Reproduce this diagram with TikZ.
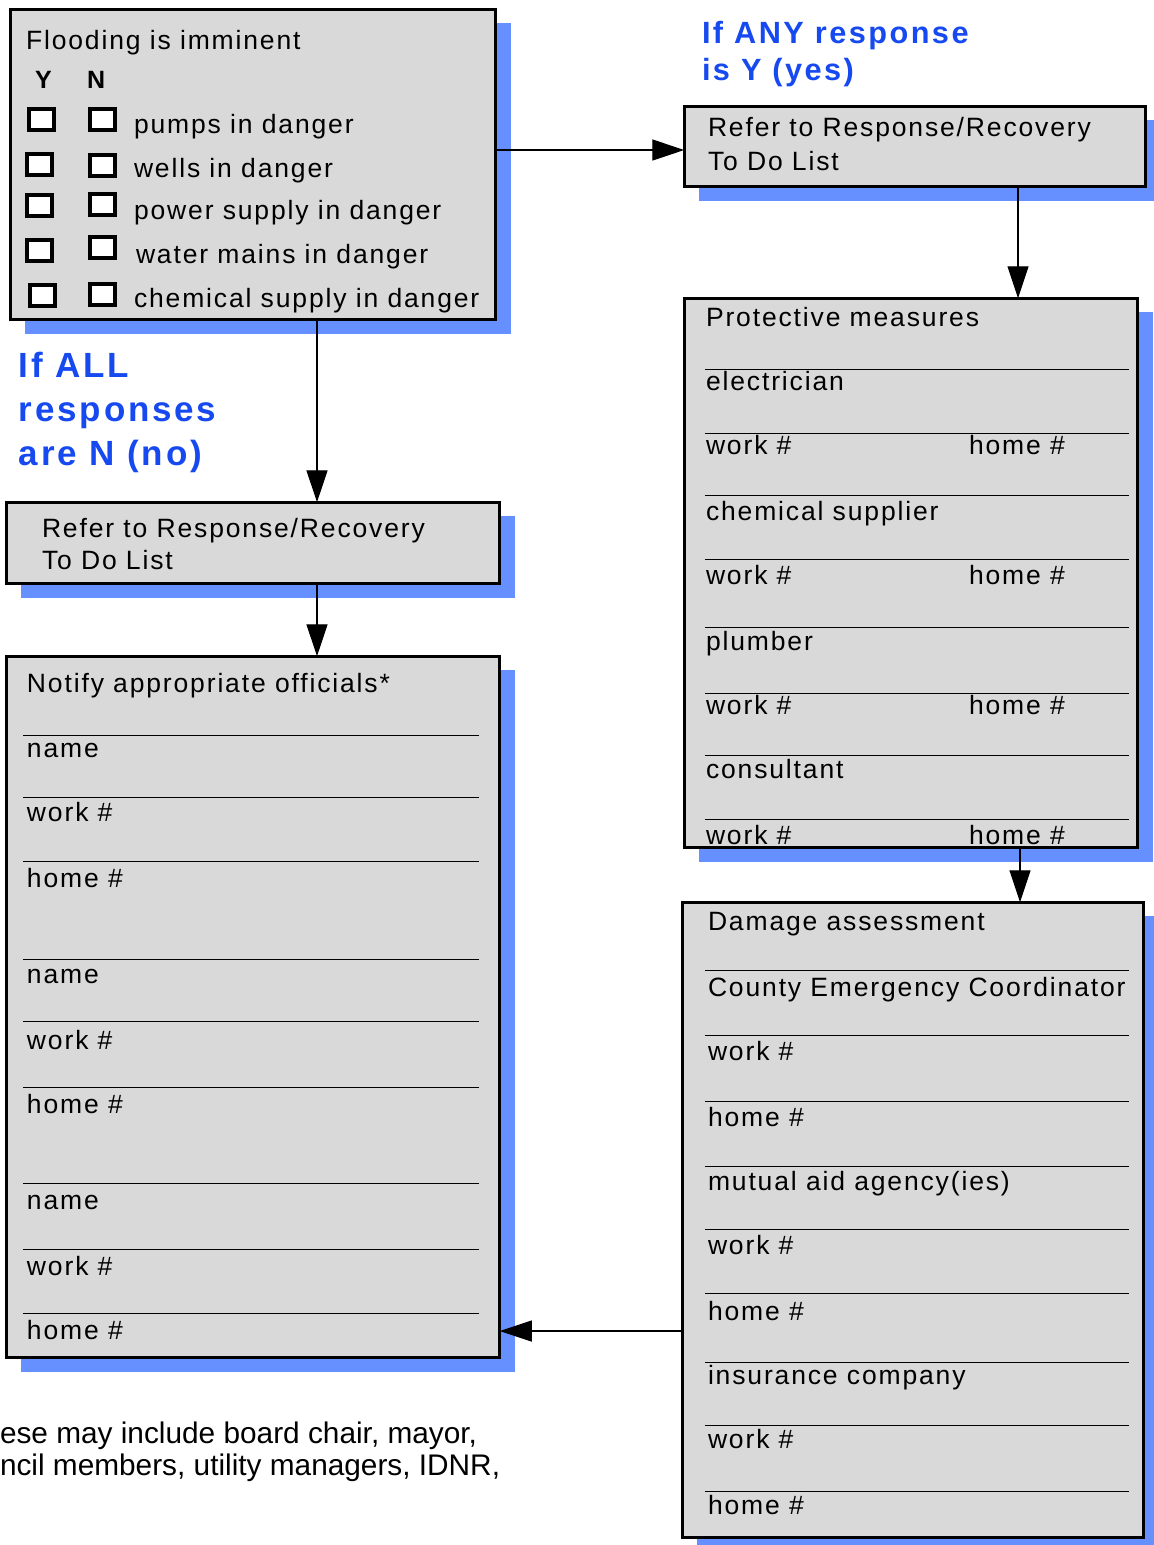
\documentclass[tikz,border=0pt]{standalone}
\usepackage{fontspec}
\setmainfont{Liberation Sans}
\newfontfamily\bodyfont{Liberation Sans}[LetterSpace=7]
\newfontfamily\bluefont{Liberation Sans}[LetterSpace=8]
\usetikzlibrary{arrows.meta,shadows}
\definecolor{boxgray}{RGB}{217,217,217}
\definecolor{shblue}{RGB}{102,144,255}
\definecolor{txtblue}{RGB}{22,74,240}
\tikzset{
  box/.style={draw=black, line width=2.7pt, fill=boxgray, inner sep=0pt, outer sep=0pt,
    general shadow={fill=shblue, shadow xshift=15pt, shadow yshift=-14pt}},
  chk/.style={draw=black, line width=4pt, fill=white, inner sep=0pt, outer sep=0pt,
    minimum width=25pt, minimum height=21pt},
  lbl/.style={anchor=base west, inner sep=0pt, outer sep=0pt, text=black,
    font=\bodyfont\fontsize{26.5}{30}\selectfont},
  yn/.style={anchor=base west, inner sep=0pt, outer sep=0pt,
    font=\bodyfont\bfseries\fontsize{25}{30}\selectfont},
  bigblue/.style={anchor=base west, inner sep=0pt, outer sep=0pt, text=txtblue,
    font=\bluefont\bfseries\fontsize{35}{40}\selectfont},
  midblue/.style={anchor=base west, inner sep=0pt, outer sep=0pt, text=txtblue,
    font=\bluefont\bfseries\fontsize{30.7}{36}\selectfont},
  note/.style={anchor=base west, inner sep=0pt, outer sep=0pt,
    font=\fontsize{29.8}{34}\selectfont},
  conn/.style={line width=1.3pt, -{Triangle[length=32pt,width=21pt]}},
  sepline/.style={line width=1pt},
}
\begin{document}
\begin{tikzpicture}[x=1pt,y=-1pt]
\clip (0,0) rectangle (1154,1545);
\fill[white] (0,0) rectangle (1154,1545);

% ---------- boxes ----------
\node[box, minimum width=485.5pt, minimum height=310.5pt] (A) at (253,164.5) {};
\node[box, minimum width=461.5pt, minimum height=80.5pt] (B) at (915,146.5) {};
\node[box, minimum width=453.5pt, minimum height=549.5pt] (C) at (911,573) {};
\node[box, minimum width=461.5pt, minimum height=635.5pt] (D) at (913,1220) {};
\node[box, minimum width=493.5pt, minimum height=701.5pt] (E) at (253,1007) {};
\node[box, minimum width=493.5pt, minimum height=81.5pt] (F) at (253,543) {};

% ---------- box A content ----------
\node[lbl] (a0) at (26,49) {Flooding is imminent};
\node[yn] (ly) at (35,88) {Y};
\node[yn] (ln) at (87,88) {N};
\node[chk] (y1) at (41.5,119.5) {};
\node[chk] (n1) at (102.5,119.5) {};
\node[chk] (y2) at (39.5,164) {};
\node[chk] (n2) at (102.5,165.5) {};
\node[chk] (y3) at (39.5,205.5) {};
\node[chk] (n3) at (102.5,204.5) {};
\node[chk] (y4) at (39.5,250) {};
\node[chk] (n4) at (102.5,247.5) {};
\node[chk] (y5) at (42.5,295.5) {};
\node[chk] (n5) at (102.5,294.5) {};
\node[lbl] (a1) at (134,133) {pumps in danger};
\node[lbl] (a2) at (134,177) {wells in danger};
\node[lbl] (a3) at (134,219) {power supply in danger};
\node[lbl] (a4) at (136,263) {water mains in danger};
\node[lbl] (a5) at (134,307) {chemical supply in danger};

% ---------- blue labels ----------
\node[midblue] (q1) at (702,43) {If ANY response};
\node[midblue] (q2) at (702,80) {is Y (yes)};
\node[bigblue] (r1) at (19,377) {If ALL};
\node[bigblue] (r2) at (19,421) {responses};
\node[bigblue] (r3) at (19,465) {are N (no)};

% ---------- box B ----------
\node[lbl] (b1) at (708,136) {Refer to Response/Recovery};
\node[lbl] (b2) at (708,170) {To Do List};

% ---------- box F ----------
\node[lbl] (f1) at (42,537) {Refer to Response/Recovery};
\node[lbl] (f2) at (42,569) {To Do List};

% ---------- box C ----------
\foreach \yy in {369,433,495,559,627,693,755,819}
  \draw[sepline] (705,\yy) -- (1129,\yy);
\node[lbl] (c0) at (706,326) {Protective measures};
\node[lbl] (c1) at (706,390) {electrician};
\node[lbl] (c2) at (706,454) {work \#};
\node[lbl] (c3) at (969,454) {home \#};
\node[lbl] (c4) at (706,520) {chemical supplier};
\node[lbl] (c5) at (706,584) {work \#};
\node[lbl] (c6) at (969,584) {home \#};
\node[lbl] (c7) at (706,650) {plumber};
\node[lbl] (c8) at (706,714) {work \#};
\node[lbl] (c9) at (969,714) {home \#};
\node[lbl] (c10) at (706,778) {consultant};
\node[lbl] (c11) at (706,844) {work \#};
\node[lbl] (c12) at (969,844) {home \#};

% ---------- box D ----------
\foreach \yy in {970,1035,1101,1166,1229,1293,1362,1425,1491}
  \draw[sepline] (705,\yy) -- (1129,\yy);
\node[lbl] (d0) at (708,930) {Damage assessment};
\node[lbl] (d1) at (708,996) {County Emergency Coordinator};
\node[lbl] (d2) at (708,1060) {work \#};
\node[lbl] (d3) at (708,1126) {home \#};
\node[lbl] (d4) at (708,1190) {mutual aid agency(ies)};
\node[lbl] (d5) at (708,1254) {work \#};
\node[lbl] (d6) at (708,1320) {home \#};
\node[lbl] (d7) at (708,1384) {insurance company};
\node[lbl] (d8) at (708,1448) {work \#};
\node[lbl] (d9) at (708,1514) {home \#};

% ---------- box E ----------
\foreach \yy in {735,797,861,959,1021,1087,1183,1249,1313}
  \draw[sepline] (23,\yy) -- (479,\yy);
\node[lbl] (e0) at (27,692) {Notify appropriate officials*};
\node[lbl] (e1) at (27,757) {name};
\node[lbl] (e2) at (27,821) {work \#};
\node[lbl] (e3) at (27,887) {home \#};
\node[lbl] (e4) at (27,983) {name};
\node[lbl] (e5) at (27,1049) {work \#};
\node[lbl] (e6) at (27,1113) {home \#};
\node[lbl] (e7) at (27,1209) {name};
\node[lbl] (e8) at (27,1275) {work \#};
\node[lbl] (e9) at (27,1339) {home \#};

% ---------- footnote ----------
\node[note] (n1t) at (0,1443) {ese may include board chair, mayor,};
\node[note] (n2t) at (0,1475) {ncil members, utility managers, IDNR,};

% ---------- connectors ----------
\draw[conn] (A.east |- 0,150) -- (B.west |- 0,150);
\draw[conn] (B.south -| 1018,0) -- (C.north -| 1018,0);
\draw[conn] (C.south -| 1020,0) -- (D.north -| 1020,0);
\draw[conn] (A.south -| 317,0) -- (F.north -| 317,0);
\draw[conn] (F.south -| 317,0) -- (E.north -| 317,0);
\draw[conn] (D.west |- 0,1331) -- (E.east |- 0,1331);
\end{tikzpicture}
\end{document}
